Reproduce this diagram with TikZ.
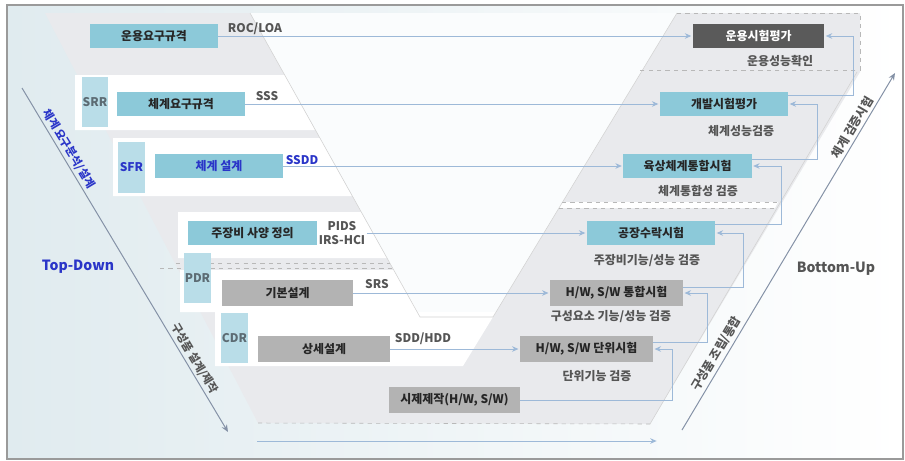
\documentclass[tikz,border=0pt]{standalone}
\usepackage{fontspec}
\setmainfont{Noto Sans CJK KR}
\usetikzlibrary{arrows.meta,positioning,calc}
\definecolor{vReq}{HTML}{8CC9D9}
\definecolor{vRev}{HTML}{B9DDE8}
\definecolor{vDsg}{HTML}{B3B3B3}
\definecolor{vOps}{HTML}{5A5A5A}
\definecolor{vInk}{HTML}{262626}
\definecolor{vBlue}{HTML}{2A35C8}
\definecolor{vGray}{HTML}{555555}
\definecolor{vRevTx}{HTML}{5C6B73}
\definecolor{vLink}{HTML}{9DB9D8}
\definecolor{vArm}{HTML}{E9EAED}
\definecolor{vDiag}{HTML}{8491A6}
\definecolor{vPale}{HTML}{E0EBEF}
\definecolor{vFrame}{HTML}{9A9A9A}
\tikzset{
  box/.style     ={inner sep=0pt,font=\fontsize{8.5}{10}\selectfont\bfseries,text=vInk},
  reqbox/.style  ={box,fill=vReq,minimum width=3.2cm,minimum height=6mm},
  dsgbox/.style  ={box,fill=vDsg,minimum width=3.28cm,minimum height=6.3mm},
  opsbox/.style  ={box,fill=vOps,text=white,minimum width=3.28cm,minimum height=6.2mm},
  revbox/.style  ={box,fill=vRev,text=vRevTx,minimum width=6.7mm,minimum height=12.5mm},
  flow/.style    ={-{Stealth[length=1.6mm,width=1.4mm]},vLink,line width=0.6pt,shorten >=1pt},
  diag/.style    ={-{Stealth[length=1.8mm,width=1.5mm]},vDiag,line width=0.7pt},
  lbl/.style     ={font=\fontsize{8.5}{10.5}\selectfont\bfseries,text=vGray,inner sep=1pt},
  dlbl/.style    ={font=\fontsize{8}{9}\selectfont\bfseries,text=vGray,inner sep=1pt},
  big/.style     ={font=\fontsize{10}{12}\selectfont\bfseries,inner sep=1pt},
  sep/.style     ={vFrame!70,dashed,line width=0.4pt},
  vedge/.style   ={vFrame!45,line width=0.4pt},
}
\begin{document}
\begin{tikzpicture}[x=0.025cm,y=-0.025cm]
\useasboundingbox (0,0) rectangle (905,460);
%% background: the V with its rows
\shade[left color=vPale,right color=white] (7,5) rectangle (903,459);
\fill[vArm] (45,13) -- (860,13) -- (860,72) -- (650,424) -- (258,423) -- cycle;
\fill[white!85!vPale] (250,13) -- (420,317) -- (493,317) -- (677,13) -- cycle;
\fill[white] (75,75) -- (285,75) -- (315,130) -- (75,130) -- cycle;
\fill[white] (113,138) -- (320,138) -- (352,196) -- (113,196) -- cycle;
\fill[white] (178,212) -- (361,212) -- (387,258) -- (178,258) -- cycle;
\fill[white] (180,270) -- (394,270) -- (418,312) -- (180,312) -- cycle;
\fill[white] (215,312) -- (496,312) -- (463,366) -- (215,366) -- cycle;
\fill[white] (562,202) -- (778,202) -- (775,208) -- (559,208) -- cycle;
\draw[vedge] (250,13) -- (420,317) -- (493,317) -- (677,13);
\draw[vedge] (650,424) -- (857,72);
\draw[sep] (677,13) -- (860,13) -- (860,70) -- (637,70);
\draw[sep] (562,202) -- (778,202);
\draw[sep] (559,208) -- (775,208);
\draw[sep] (176,263) -- (390,263);
\draw[sep] (160,268) -- (392,268);
\draw[sep] (258,423) -- (650,424);

%% left side: requirements and design
\node[reqbox] (req1) at (154,36) {운용요구규격};
\node[revbox] (srr) at (95,102) {SRR};
\node[reqbox] (req2) at (181,104) {체계요구규격};
\node[revbox,text=vBlue] (sfr) at (131.5,167.5) {SFR};
\node[reqbox,text=vBlue] (sysdes) at (219,166) {체계 설계};
\node[reqbox] (spec) at (252.5,233) {주장비 사양 정의};
\node[revbox] (pdr) at (197.5,278) {PDR};
\node[dsgbox] (basic) at (287.5,293) {기본설계};
\node[revbox] (cdr) at (234.5,338) {CDR};
\node[dsgbox] (detail) at (324,349) {상세설계};
\node[dsgbox] (proto) at (454.5,400) {시제제작(H/W, S/W)};

%% right side: tests
\node[opsbox] (opeval) at (758.5,36) {운용시험평가};
\node[reqbox] (deveval) at (724,104) {개발시험평가};
\node[reqbox] (sysint) at (687.5,166) {육상체계통합시험};
\node[reqbox] (fat) at (651,233) {공장수락시험};
\node[dsgbox,minimum width=3.32cm] (hwint) at (616.5,293) {H/W, S/W 통합시험};
\node[dsgbox,minimum width=3.32cm] (unit) at (586.5,349) {H/W, S/W 단위시험};

\node[lbl] (opchk) at (780,61) {운용성능확인};
\node[lbl] (syschk) at (741,131) {체계성능검증};
\node[lbl] (intchk) at (698,191) {체계통합성 검증};
\node[lbl] (fatchk) at (647,261) {주장비기능/성능 검증};
\node[lbl] (hwchk) at (611,317) {구성요소 기능/성능 검증};
\node[lbl] (unitchk) at (597,376) {단위기능 검증};

%% documents on the links
\node[lbl] (roc) at (255,29) {ROC/LOA};
\node[lbl] (sss) at (267,96) {SSS};
\node[lbl,text=vBlue] (ssdd) at (302,160) {SSDD};
\node[lbl,align=center] (pids) at (342,233) {PIDS\\IRS-HCI};
\node[lbl] (srs) at (377,284) {SRS};
\node[lbl] (sdd) at (423,339) {SDD/HDD};

\draw[flow] (req1) -- (opeval);
\draw[flow] (req2) -- (deveval);
\draw[flow] (sysdes) -- (sysint);
\draw[flow] (pids) -- (fat);
\draw[flow] (basic) -- (hwint);
\draw[flow] (detail) -- (unit);

%% feedback from each test up to the next one
\draw[flow] (proto.east) -| ($(unit.east)+(19,0)$) -- (unit.east);
\draw[flow] ($(unit.north east)+(0,6)$) -| ($(hwint.east)+(24,0)$) -- (hwint.east);
\draw[flow] ($(hwint.north east)+(0,7)$) -| ($(fat.east)+(28,0)$) -- (fat.east);
\draw[flow] ($(fat.north east)+(0,4)$) -| ($(sysint.east)+(30,0)$) -- (sysint.east);
\draw[flow] ($(sysint.north east)+(0,6)$) -| ($(deveval.east)+(29,0)$) -- (deveval.east);
\draw[flow] ($(deveval.north east)+(0,4)$) -| ($(opeval.east)+(29,0)$) -- (opeval.east);

%% direction arrows
\coordinate (td0) at (22,88);
\coordinate (td1) at (228,432);
\draw[diag] (td0) -- node[pos=0.19,sloped,above=1pt,dlbl,text=vBlue] (tdlbl) {체계 요구분석/설계}
                     node[pos=0.80,sloped,above=1pt,dlbl] (mklbl) {구성품 설계/제작} (td1);
\coordinate (bu0) at (682,430);
\coordinate (bu1) at (895,73);
\draw[diag] (bu0) -- node[pos=0.20,sloped,above=1pt,dlbl,font=\fontsize{8.5}{9}\selectfont\bfseries] (aslbl) {구성품 조립/통합}
                     node[pos=0.835,sloped,above=1pt,dlbl,font=\fontsize{8.5}{9}\selectfont\bfseries] (vflbl) {체계 검증시험} (bu1);
\coordinate (bt0) at (257,441);
\coordinate (bt1) at (658,441);
\draw[flow] (bt0) -- (bt1);

\node[big,text=vBlue] (topdown) at (78,267) {Top-Down};
\node[big,text=vGray] (bottomup) at (836,269) {Bottom-Up};

\draw[vFrame,line width=1pt] (7,5) rectangle (903,459);
\end{tikzpicture}
\end{document}
